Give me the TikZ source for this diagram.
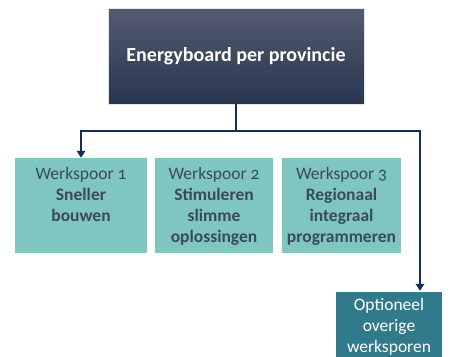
\documentclass[tikz,border=0pt]{standalone}
\usepackage{fontspec}
\setmainfont[Numbers=OldStyle]{Carlito}
\usetikzlibrary{arrows.meta}
\definecolor{navytop}{RGB}{84,91,110}
\definecolor{navybot}{RGB}{40,54,80}
\definecolor{linenavy}{RGB}{22,44,84}
\definecolor{wsfill}{RGB}{128,198,192}
\definecolor{wstext}{RGB}{58,74,90}
\definecolor{optfill}{RGB}{49,122,140}
\tikzset{
  wsbox/.style={draw=none, fill=wsfill, minimum height=95pt, inner sep=0pt},
  wslabel/.style={text=wstext, align=center, font=\fontsize{17.5}{21}\selectfont, anchor=north, inner sep=0pt},
  conn/.style={draw=linenavy, line width=2.7pt},
  tip/.style={-{Triangle[width=8.5pt,length=7pt]}}
}
\begin{document}
\begin{tikzpicture}[x=1pt,y=-1pt]
\useasboundingbox (0,0) rectangle (452,356);
\node[draw=white!85!navytop, line width=0.6pt, top color=navytop, bottom color=navybot,
      minimum width=256pt, minimum height=96pt, inner sep=0pt,
      text=white, font=\fontsize{20}{22}\selectfont\bfseries] (top) at (236,56) {Energyboard per provincie};
\node[wsbox, minimum width=132pt] (ws1) at (81,205.5) {};
\node[wsbox, minimum width=118pt] (ws2) at (214,205.5) {};
\node[wsbox, minimum width=119pt] (ws3) at (341.5,205.5) {};
\node[fill=optfill, minimum width=106pt, minimum height=66pt, inner sep=0pt] (opt) at (389,325) {};
\node[wslabel] (l1) at ([yshift=-9pt]ws1.north) {Werkspoor 1\\\textbf{Sneller}\\\textbf{bouwen}};
\node[wslabel] (l2) at ([yshift=-9pt]ws2.north) {Werkspoor 2\\\textbf{Stimuleren}\\\textbf{slimme}\\\textbf{oplossingen}};
\node[wslabel] (l3) at ([yshift=-9pt]ws3.north) {Werkspoor 3\\\textbf{Regionaal}\\\textbf{integraal}\\\textbf{programmeren}};
\node[text=white, align=center, font=\fontsize{17.5}{21}\selectfont, anchor=north, inner sep=0pt] (lo) at ([yshift=-6pt]opt.north) {Optioneel\\overige\\werksporen};
\coordinate (j) at (236,131);
\draw[conn] (top.south) -- (j);
\draw[conn, tip] (j) -| (ws1.north);
\draw[conn, tip] (j) -| ([yshift=1pt]opt.north -| 420,0);
\end{tikzpicture}
\end{document}
